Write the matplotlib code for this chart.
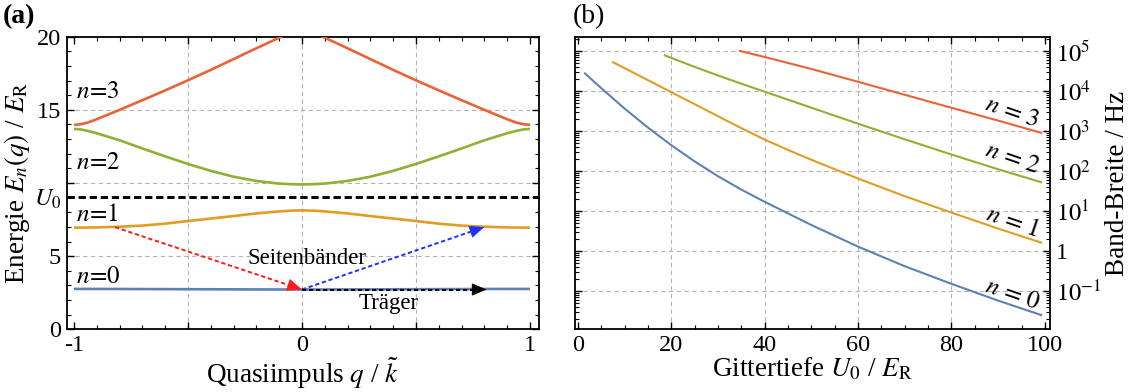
import matplotlib
matplotlib.use("Agg")
import matplotlib.pyplot as plt
from matplotlib.ticker import FixedLocator, MultipleLocator, LogLocator, NullFormatter, FixedFormatter

plt.rcParams['font.family'] = ['Liberation Serif', 'DejaVu Serif']
plt.rcParams['mathtext.fontset'] = 'stix'

# ---------------- panel (a): band structure ----------------
q = [-1.0, -0.97, -0.94, -0.9, -0.8, -0.7, -0.6, -0.5, -0.4, -0.3, -0.2, -0.1, -0.05,
     0.0, 0.05, 0.1, 0.2, 0.3, 0.4, 0.5, 0.6, 0.7, 0.8, 0.9, 0.94, 0.97, 1.0]
band_n0 = [2.76, 2.76, 2.76, 2.76, 2.755, 2.75, 2.745, 2.74, 2.735, 2.73, 2.725, 2.72, 2.72,
           2.72, 2.72, 2.72, 2.725, 2.73, 2.735, 2.74, 2.745, 2.75, 2.755, 2.76, 2.76, 2.76, 2.76]
band_n1 = [6.95, 6.952, 6.957, 6.965, 7.01, 7.09, 7.22, 7.40, 7.57, 7.74, 7.92, 8.06, 8.11,
           8.13, 8.11, 8.06, 7.92, 7.74, 7.57, 7.40, 7.22, 7.09, 7.01, 6.965, 6.957, 6.952, 6.95]
band_n2 = [13.70, 13.66, 13.56, 13.40, 12.92, 12.36, 11.82, 11.30, 10.83, 10.43, 10.14, 9.96, 9.92,
           9.90, 9.92, 9.96, 10.14, 10.43, 10.83, 11.30, 11.82, 12.36, 12.92, 13.40, 13.56, 13.66, 13.70]
band_n3 = [13.97, 14.02, 14.13, 14.36, 15.00, 15.66, 16.33, 17.02, 17.73, 18.47, 19.21, 19.93, 20.30,
           20.42, 20.30, 19.93, 19.21, 18.47, 17.73, 17.02, 16.33, 15.66, 15.00, 14.36, 14.13, 14.02, 13.97]
U0_level = 9.05

arrow_red = [(-0.82, 6.98), (0.0, 2.72)]
arrow_blue = [(0.0, 2.72), (0.80, 6.99)]
arrow_black = [(0.0, 2.72), (0.81, 2.72)]

# ---------------- panel (b): band widths ----------------
U_n0 = [1.5, 5, 10, 15, 20, 25, 30, 35, 40, 50, 60, 70, 80, 90, 99.2]
W_n0 = [27540, 11720, 3622, 1213, 440.6, 173.4, 73.96, 34.2, 16.94, 4.457, 1.285, 0.4159, 0.151, 0.0574, 0.0251]
U_n1 = [7.5, 10, 15, 20, 25, 30, 35, 40, 45, 50, 60, 70, 80, 90, 99.2]
W_n1 = [52480, 37150, 18620, 9333, 4677, 2344, 1175, 609.5, 335.0, 190.5, 64.6, 23.4, 9.12, 3.63, 1.62]
U_n2 = [18.6, 20, 25, 30, 35, 40, 45, 50, 60, 70, 80, 90, 99.2]
W_n2 = [77620, 67140, 39990, 24380, 15210, 9594, 6053, 3819, 1521, 619.4, 258.2, 110.2, 52.5]
U_n3 = [34.7, 40, 45, 50, 60, 70, 80, 90, 99.2]
W_n3 = [100000, 70790, 50120, 35480, 16980, 8035, 3802, 1820, 901.6]

colors = ['#5E81B5', '#E19C24', '#8FB032', '#EB6235']

fig = plt.figure(figsize=(11.36, 3.92), dpi=100)
axA = fig.add_axes([66.7/1136, (392-329.3)/392, 472.6/1136, 292.6/392])
axB = fig.add_axes([575/1136, (392-329.3)/392, 475/1136, 292.6/392])

FS_TICK = 17.5
FS_LAB = 19.5
FS_N = 18
grid_kw = dict(color='#b4b4b4', lw=0.8, dashes=(4, 3), zorder=0)

# ---- panel (a)
for gx in [-0.5, 0.0, 0.5]:
    axA.axvline(gx, **grid_kw)
for gy in [5, 10, 15]:
    axA.axhline(gy, **grid_kw)
axA.axhline(U0_level, color='black', lw=2.1, dashes=(2.5, 1.3), zorder=2)

for band, c in zip([band_n0, band_n1, band_n2, band_n3], colors):
    axA.plot(q, band, color=c, lw=1.9, zorder=3, solid_capstyle='butt')


def dashed_arrow(ax, pts, color):
    (x0, y0), (x1, y1) = pts
    ax.plot([x0, x1 - 0.04*(x1-x0)], [y0, y1 - 0.04*(y1-y0)], color=color, lw=1.4,
            dashes=(2.2, 1.4), zorder=4)
    ax.annotate('', xy=(x1, y1), xytext=(x1 - 0.02*(x1-x0), y1 - 0.02*(y1-y0)),
                arrowprops=dict(arrowstyle='-|>,head_length=0.65,head_width=0.27',
                                mutation_scale=15, color=color, lw=0.5,
                                shrinkA=0, shrinkB=0), zorder=5)


dashed_arrow(axA, arrow_red, '#ff1a1a')
dashed_arrow(axA, arrow_blue, '#1a33ff')
dashed_arrow(axA, arrow_black, 'black')

axA.text(0.02, 4.85, 'Seitenbänder', fontsize=16.5, ha='center', va='center')
axA.text(0.38, 1.75, 'Träger', fontsize=16.5, ha='center', va='center')
for lab, yy in zip(['$n\\!=\\!0$', '$n\\!=\\!1$', '$n\\!=\\!2$', '$n\\!=\\!3$'], [3.6, 7.8, 11.4, 16.2]):
    axA.text(-0.99, yy, lab, fontsize=FS_N, ha='left', va='center')

axA.set_xlim(-1.032, 1.041)
axA.set_ylim(0, 20)
axA.xaxis.set_major_locator(FixedLocator([-1, -0.5, 0, 0.5, 1]))
axA.xaxis.set_major_formatter(FixedFormatter(['-1', '', '0', '', '1']))
axA.xaxis.set_minor_locator(MultipleLocator(0.1))
axA.yaxis.set_major_locator(FixedLocator([0, 5, U0_level, 10, 15, 20]))
axA.yaxis.set_major_formatter(FixedFormatter(['0', '5', '$U_0$', '', '15', '20']))
axA.yaxis.set_minor_locator(MultipleLocator(1))
axA.set_xlabel('Quasiimpuls $q$ / $\\tilde{k}$', fontsize=FS_LAB, labelpad=0)
axA.set_ylabel('Energie $E_n(q)$ / $E_\\mathrm{R}$', fontsize=FS_LAB, labelpad=1)
axA.text(-0.135, 1.07, '(a)', transform=axA.transAxes, fontsize=20, fontweight='bold',
         ha='left', va='center')

# ---- panel (b)
for gx in [20, 40, 60, 80]:
    axB.axvline(gx, **grid_kw)
for e in range(-1, 6):
    axB.axhline(10.0**e, **grid_kw)
for U, W, c in zip([U_n0, U_n1, U_n2, U_n3], [W_n0, W_n1, W_n2, W_n3], colors):
    axB.plot(U, W, color=c, lw=1.5, zorder=3)
axB.set_yscale('log')
axB.set_xlim(-0.64, 101.1)
axB.set_ylim(10**-1.9575, 10**5.3575)
axB.xaxis.set_major_locator(MultipleLocator(20))
axB.xaxis.set_minor_locator(MultipleLocator(5))
ytv = [0.1, 1, 10, 100, 1e3, 1e4, 1e5]
axB.yaxis.set_major_locator(FixedLocator(ytv))
axB.yaxis.set_major_formatter(FixedFormatter(['$10^{-1}$', '1', '$10^{1}$', '$10^{2}$',
                                              '$10^{3}$', '$10^{4}$', '$10^{5}$']))
axB.yaxis.set_minor_locator(LogLocator(base=10, subs=range(2, 10), numticks=20))
axB.yaxis.set_minor_formatter(NullFormatter())
axB.tick_params(axis='y', which='both', labelleft=False, labelright=True)
axB.yaxis.set_label_position('right')
axB.set_xlabel('Gittertiefe $U_0$ / $E_\\mathrm{R}$', fontsize=FS_LAB, labelpad=0)
axB.set_ylabel('Band-Breite / Hz', fontsize=FS_LAB, labelpad=3)
for lab, yy in zip(['$n\\,{=}\\,0$', '$n\\,{=}\\,1$', '$n\\,{=}\\,2$', '$n\\,{=}\\,3$'],
                   [10**-1.1, 10**0.72, 10**2.32, 10**3.47]):
    axB.text(93.0, yy, lab, fontsize=FS_N, ha='center', va='center', rotation=-19)
axB.text(-0.005, 1.07, '(b)', transform=axB.transAxes, fontsize=20, ha='left', va='center')

for ax in (axA, axB):
    for s in ax.spines.values():
        s.set_linewidth(1.3)
    ax.tick_params(which='both', direction='in', top=True, right=True, left=True, bottom=True,
                   labelsize=FS_TICK, pad=4)
    ax.tick_params(which='major', length=5, width=1.0)
    ax.tick_params(which='minor', length=3, width=0.8)

fig.savefig('out.png', dpi=100)
